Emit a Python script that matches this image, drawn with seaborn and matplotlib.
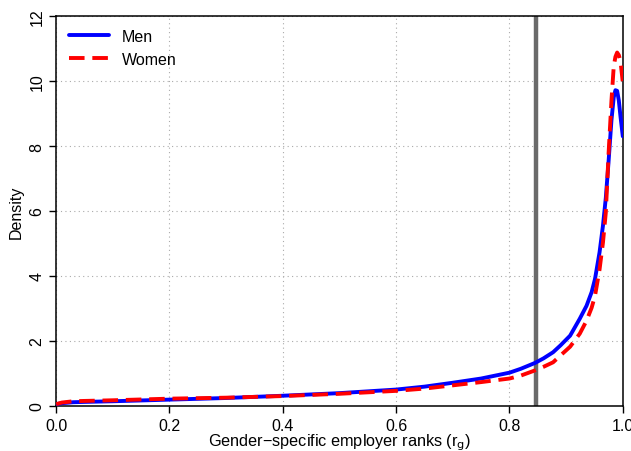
import numpy as np
import pandas as pd
import matplotlib
matplotlib.use("Agg")
import matplotlib.pyplot as plt
import seaborn as sns

# employer rank grid and kernel density values
rank = [0.0, 0.01, 0.03, 0.05, 0.1, 0.2, 0.3, 0.4, 0.5, 0.6, 0.65, 0.7, 0.75,
        0.8, 0.82, 0.845, 0.86, 0.877, 0.89, 0.907, 0.924, 0.936, 0.945, 0.951,
        0.959, 0.965, 0.970, 0.975, 0.980, 0.984, 0.987, 0.990, 0.993, 0.996, 1.0]
dens_men = [0.05, 0.08, 0.11, 0.12, 0.14, 0.19, 0.24, 0.31, 0.39, 0.50, 0.59, 0.71,
            0.84, 1.02, 1.14, 1.32, 1.46, 1.65, 1.86, 2.16, 2.68, 3.08, 3.50, 3.91,
            4.73, 5.55, 6.40, 7.55, 8.80, 9.50, 9.72, 9.70, 9.40, 8.90, 8.30]
dens_women = [0.05, 0.10, 0.14, 0.15, 0.17, 0.22, 0.25, 0.30, 0.37, 0.46, 0.53, 0.63,
              0.73, 0.84, 0.93, 1.09, 1.20, 1.34, 1.55, 1.82, 2.22, 2.62, 3.02, 3.39,
              4.20, 5.03, 5.95, 7.80, 9.40, 10.45, 10.75, 10.88, 10.80, 10.60, 9.96]
cutoff = 0.846

df = pd.concat([
    pd.DataFrame({"rank": rank, "density": dens_men, "group": "Men"}),
    pd.DataFrame({"rank": rank, "density": dens_women, "group": "Women"}),
])

sns.set_style("white")
plt.rcParams["font.family"] = ["Liberation Sans", "DejaVu Sans"]
plt.rcParams["text.color"] = "black"
plt.rcParams["axes.labelcolor"] = "black"
plt.rcParams["xtick.color"] = "black"
plt.rcParams["ytick.color"] = "black"

fig, ax = plt.subplots(figsize=(6.31, 4.52), dpi=100)
fig.subplots_adjust(left=0.089, right=0.987, top=0.962, bottom=0.1)

ax.axvline(cutoff, color="#6a6a6a", lw=3.2, zorder=1)
sns.lineplot(data=df, x="rank", y="density", hue="group", style="group",
             palette={"Men": "blue", "Women": "red"},
             dashes={"Men": "", "Women": (4, 2)},
             lw=2.8, ax=ax, zorder=3, solid_joinstyle="round",
             dash_joinstyle="round")

ax.set_xlim(0, 1)
ax.set_ylim(0, 12)
ax.set_xticks(np.arange(0, 1.01, 0.2))
ax.set_xticklabels([f"{v:.1f}" for v in np.arange(0, 1.01, 0.2)])
ax.set_yticks(range(0, 13, 2))
ax.grid(True, linestyle=(0, (1, 3)), color="#aaaaaa", lw=0.8)
ax.tick_params(axis="both", direction="out", length=5, width=1, labelsize=11.5,
               bottom=True, left=True)
for lab in ax.get_yticklabels():
    lab.set_rotation(90)
    lab.set_va("center")
for s in ax.spines.values():
    s.set_color("black")
    s.set_linewidth(1.1)

ax.set_xlabel(r"Gender−specific employer ranks (r$_\mathrm{g}$)", fontsize=11.7, labelpad=-1)
ax.set_ylabel("Density", fontsize=11.5, labelpad=4)

ax.legend(title=None, loc="upper left", frameon=False, fontsize=11.5,
          handlelength=2.5, borderaxespad=0.4)

fig.savefig("out.png", dpi=100)
